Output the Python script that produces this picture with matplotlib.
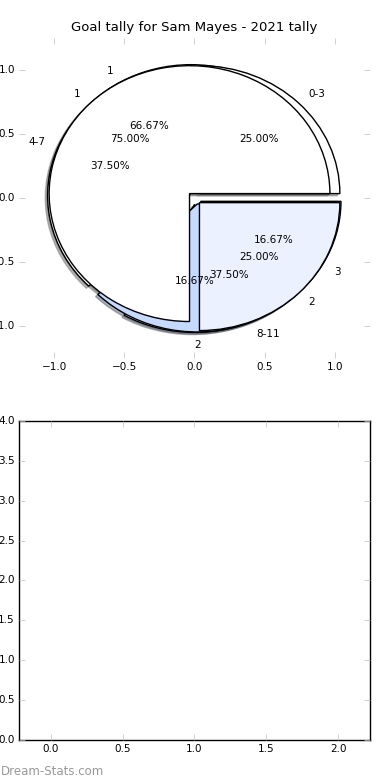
import matplotlib
matplotlib.use("Agg")
import matplotlib.pyplot as plt

plt.style.use('classic')

# goals per game bucket
range_labels = ['0-3', '4-7', '8-11']
range_counts = [2, 3, 3]

# goals in a game (two overlaid tallies)
tally_labels_a = ['1', '2', '3']
tally_counts_a = [4, 1, 1]
tally_labels_b = ['1', '2']
tally_counts_b = [3, 1]

colours = ['#FFFFFF', '#EBF1FF', '#C6D9FF']
title = 'Goal tally for Sam Mayes - 2021 tally'

fig = plt.figure(figsize=(3.9, 7.8), dpi=100, facecolor='white')
ax1 = fig.add_axes([0.0487, 0.541, 0.9, 0.41])
ax2 = fig.add_axes([0.0487, 0.0513, 0.9, 0.409])

wp = dict(edgecolor='black', linewidth=1.0)
tp = dict(fontsize=7.5)
shad = dict(ox=-0.012, oy=-0.012, shade=0.55)

ax1.pie(tally_counts_a, labels=tally_labels_a, explode=[0.05] * 3, autopct='%1.2f%%',
        shadow=shad, colors=colours, wedgeprops=wp, textprops=tp)
ax1.pie(range_counts, labels=range_labels, explode=[0.05] * 3, autopct='%1.2f%%',
        shadow=shad, colors=['#FFFFFF', '#FFFFFF', '#C6D9FF'], wedgeprops=wp, textprops=tp)
ax1.pie(tally_counts_b, labels=tally_labels_b, explode=[0.05] * 2, autopct='%1.2f%%',
        shadow=shad, colors=colours, wedgeprops=wp, textprops=tp)

ax1.set_aspect('auto')
ax1.set_frame_on(False)
ax1.set_xlim(-1.25, 1.25)
ax1.set_ylim(-1.25, 1.25)
ax1.set_xticks([-1.0, -0.5, 0.0, 0.5, 1.0])
ax1.set_yticks([-1.0, -0.5, 0.0, 0.5, 1.0])
ax1.tick_params(labelsize=7.5, color='0.75', pad=3)
ax1.set_title(title, fontsize=9.5)

ax2.set_xlim(-0.22, 2.22)
ax2.set_ylim(0, 4)
ax2.set_xticks([0.0, 0.5, 1.0, 1.5, 2.0])
ax2.set_yticks([0.0, 0.5, 1.0, 1.5, 2.0, 2.5, 3.0, 3.5, 4.0])
ax2.tick_params(labelsize=7.5, color='0.75', pad=3)

fig.text(0.002, 0.006, 'Dream-Stats.com', fontsize=8.5, color='#999999')

fig.savefig('out.png', dpi=100, facecolor='white')
